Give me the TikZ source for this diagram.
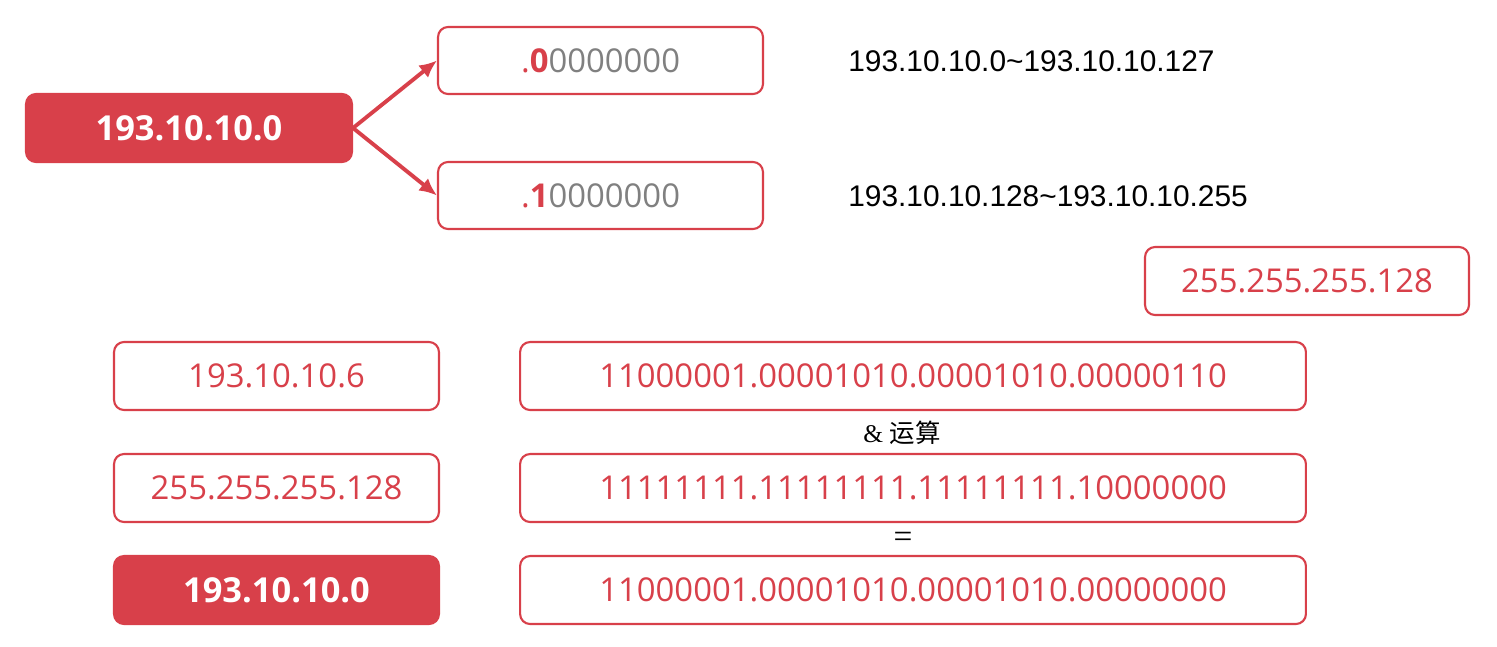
\documentclass[tikz,border=0pt]{standalone}
\usepackage{fontspec}
\setmainfont{Open Sans}
\newfontfamily\cjkfont{Noto Sans CJK SC}
\newfontfamily\rangefont{Liberation Sans}
\newfontfamily\opfont{Liberation Serif}
\usetikzlibrary{positioning}
\usetikzlibrary{arrows.meta}
\definecolor{net-red}{HTML}{D8404A}
\definecolor{bit-gray}{HTML}{808080}
\tikzset{
  addr-box/.style={draw=net-red, line width=1.2pt, rounded corners=0.2cm,
    fill=white, text=net-red, minimum height=1.36cm, minimum width=#1,
    inner sep=0pt, font=\fontsize{18.7}{22}\selectfont},
  addr-box/.default=6.5cm,
  net-box/.style={addr-box=#1, fill=net-red, text=white,
    font=\fontsize{19.6}{22}\selectfont\bfseries},
  net-box/.default=6.5cm,
  range-text/.style={anchor=west, inner sep=0pt, font=\rangefont\fontsize{17}{20}\selectfont},
  op-text/.style={inner sep=0pt, font=\opfont\fontsize{14.5}{17}\selectfont},
  split-path/.style={line width=2.2pt, draw=net-red, -{Latex[length=10pt,width=9pt]}},
}
\newcommand{\hostbits}[2]{\textcolor{net-red}{.\textbf{#1}}\textcolor{bit-gray}{#2}}

\begin{document}
\begin{tikzpicture}[x=0.02cm, y=-0.02cm]
\useasboundingbox (0,0) rectangle (1497,646);
% subnet split
\node[net-box=6.52cm] (net) at (189,128) {193.10.10.0};
\node[addr-box, minimum height=1.34cm] (low) at (600.5,60.5) {\hostbits{0}{0000000}};
\node[addr-box, minimum height=1.34cm] (high) at (600.5,195.5) {\hostbits{1}{0000000}};
\draw[split-path] (net.east) -- (low.west);
\draw[split-path] (net.east) -- (high.west);
\node[range-text] (low-range) at (848,61) {193.10.10.0\textasciitilde193.10.10.127};
\node[range-text] (high-range) at (848,196) {193.10.10.128\textasciitilde193.10.10.255};
\node[addr-box=6.48cm] (mask) at (1307,281) {255.255.255.128};
% and operation
\node[addr-box] (host) at (276.5,376) {193.10.10.6};
\node[addr-box=15.72cm] (host-bin) at (913,376) {11000001.00001010.00001010.00000110};
\node[op-text] (and-op) at (902,433) {\& {\cjkfont 运算}};
\node[addr-box] (mask-dec) at (276.5,488) {255.255.255.128};
\node[addr-box=15.72cm] (mask-bin) at (913,488) {11111111.11111111.11111111.10000000};
\node[op-text, font=\opfont\fontsize{19}{20}\selectfont] (eq-op) at (903,540) {=};
\node[net-box] (result) at (276.5,590) {193.10.10.0};
\node[addr-box=15.72cm] (result-bin) at (913,590) {11000001.00001010.00001010.00000000};
\end{tikzpicture}
\end{document}
